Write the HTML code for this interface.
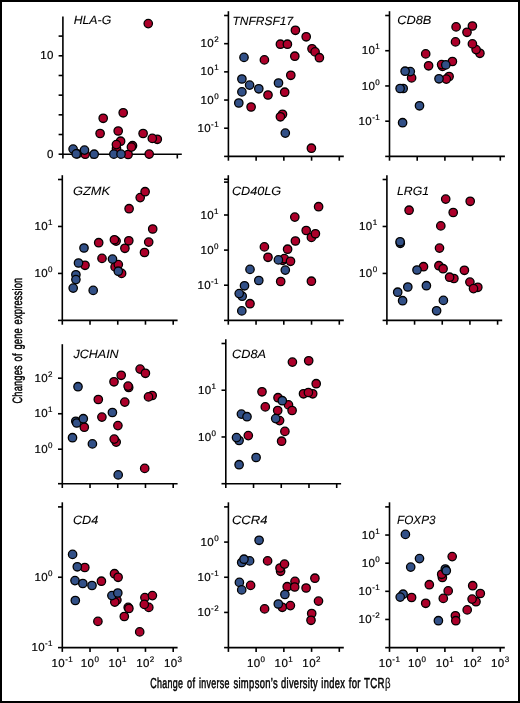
<!DOCTYPE html>
<html><head><meta charset="utf-8">
<style>
html,body{margin:0;padding:0;background:#fff;}
body{width:520px;height:703px;overflow:hidden;}
svg{display:block;will-change:transform;}
text{text-rendering:geometricPrecision;}
.ax line{stroke:#000;stroke-width:1.6;}
.t{font-family:"Liberation Sans",sans-serif;font-size:11.5px;fill:#000;letter-spacing:0.4px;stroke:#000;stroke-width:0.2px;}
.s{font-size:8.0px;}
.g{font-family:"Liberation Sans",sans-serif;font-size:12px;font-style:italic;fill:#000;stroke:#000;stroke-width:0.1px;}
.r{fill:#ac002a;stroke:#000;stroke-width:1.3;}
.b{fill:#325087;stroke:#000;stroke-width:1.3;}
.lab{font-family:"Liberation Sans",sans-serif;font-size:14.5px;fill:#000;stroke:#000;stroke-width:0.5px;}
</style></head>
<body>
<svg width="520" height="703" viewBox="0 0 520 703">
<rect x="1" y="1" width="518" height="701" fill="#fff" stroke="#000" stroke-width="2"/>
<g class="ax"><line x1="62.9" y1="16.4" x2="62.9" y2="154.2"/><line x1="62.9" y1="154.2" x2="181.8" y2="154.2"/><line x1="62.9" y1="154.2" x2="62.9" y2="158.5"/><line x1="91.5" y1="154.2" x2="91.5" y2="158.5"/><line x1="120.1" y1="154.2" x2="120.1" y2="158.5"/><line x1="148.7" y1="154.2" x2="148.7" y2="158.5"/><line x1="177.3" y1="154.2" x2="177.3" y2="158.5"/><line x1="58.6" y1="154.2" x2="62.9" y2="154.2"/><line x1="58.6" y1="134.52" x2="62.9" y2="134.52"/><line x1="58.6" y1="114.84" x2="62.9" y2="114.84"/><line x1="58.6" y1="95.16" x2="62.9" y2="95.16"/><line x1="58.6" y1="75.48" x2="62.9" y2="75.48"/><line x1="58.6" y1="55.8" x2="62.9" y2="55.8"/><line x1="58.6" y1="36.1" x2="62.9" y2="36.1"/></g>
<text x="53.8" y="157.8" text-anchor="end" class="t">0</text>
<text x="53.8" y="59.4" text-anchor="end" class="t">10</text>
<text x="73.7" y="23.9" class="g" textLength="37.5" lengthAdjust="spacingAndGlyphs">HLA-G</text>
<circle cx="103.2" cy="118.3" r="4.2" class="r"/><circle cx="100.1" cy="133.5" r="4.2" class="r"/><circle cx="118.2" cy="131" r="4.2" class="r"/><circle cx="123.2" cy="112.8" r="4.2" class="r"/><circle cx="120.6" cy="141.2" r="4.2" class="r"/><circle cx="116.5" cy="148.4" r="4.2" class="r"/><circle cx="116.4" cy="144.6" r="4.2" class="r"/><circle cx="85.2" cy="154.2" r="4.2" class="r"/><circle cx="128.1" cy="154.5" r="4.2" class="r"/><circle cx="132.5" cy="145.7" r="4.2" class="r"/><circle cx="131.4" cy="147.1" r="4.2" class="r"/><circle cx="143.1" cy="133.5" r="4.2" class="r"/><circle cx="157.3" cy="139.3" r="4.2" class="r"/><circle cx="152.3" cy="138.4" r="4.2" class="r"/><circle cx="149.2" cy="154.1" r="4.2" class="r"/><circle cx="148.25" cy="23.6" r="4.2" class="r"/><circle cx="73.1" cy="149.1" r="4.2" class="b"/><circle cx="77.3" cy="153.9" r="4.2" class="b"/><circle cx="76.2" cy="153.9" r="4.2" class="b"/><circle cx="84.5" cy="150.1" r="4.2" class="b"/><circle cx="94.2" cy="154.2" r="4.2" class="b"/><circle cx="113.85" cy="154.15" r="4.2" class="b"/><circle cx="121" cy="154.15" r="4.2" class="b"/>
<g class="ax"><line x1="228.4" y1="11.2" x2="228.4" y2="156.4"/><line x1="228.4" y1="156.4" x2="343.8" y2="156.4"/><line x1="228.4" y1="156.4" x2="228.4" y2="160.7"/><line x1="256.12" y1="156.4" x2="256.12" y2="160.7"/><line x1="283.85" y1="156.4" x2="283.85" y2="160.7"/><line x1="311.58" y1="156.4" x2="311.58" y2="160.7"/><line x1="339.3" y1="156.4" x2="339.3" y2="160.7"/><line x1="224.1" y1="156.4" x2="228.4" y2="156.4"/><line x1="224.1" y1="128.22" x2="228.4" y2="128.22"/><line x1="224.1" y1="100.04" x2="228.4" y2="100.04"/><line x1="224.1" y1="71.86" x2="228.4" y2="71.86"/><line x1="224.1" y1="43.68" x2="228.4" y2="43.68"/><line x1="224.1" y1="15.5" x2="228.4" y2="15.5"/></g>
<text x="219" y="131.82" text-anchor="end" class="t">10<tspan class="s" dy="-5">-1</tspan></text>
<text x="219" y="103.64" text-anchor="end" class="t">10<tspan class="s" dy="-5">0</tspan></text>
<text x="219" y="75.46" text-anchor="end" class="t">10<tspan class="s" dy="-5">1</tspan></text>
<text x="219" y="47.28" text-anchor="end" class="t">10<tspan class="s" dy="-5">2</tspan></text>
<text x="232.5" y="24.5" class="g" textLength="60.6" lengthAdjust="spacingAndGlyphs">TNFRSF17</text>
<circle cx="295.4" cy="30.3" r="4.2" class="r"/><circle cx="306.2" cy="36.8" r="4.2" class="r"/><circle cx="280.4" cy="44.2" r="4.2" class="r"/><circle cx="287.4" cy="44.2" r="4.2" class="r"/><circle cx="312" cy="48.8" r="4.2" class="r"/><circle cx="315.1" cy="51.9" r="4.2" class="r"/><circle cx="319.4" cy="57.7" r="4.2" class="r"/><circle cx="294.8" cy="56.2" r="4.2" class="r"/><circle cx="264.4" cy="59.9" r="4.2" class="r"/><circle cx="290.8" cy="75.3" r="4.2" class="r"/><circle cx="284.7" cy="92.2" r="4.2" class="r"/><circle cx="268" cy="95" r="4.2" class="r"/><circle cx="251.1" cy="107" r="4.2" class="r"/><circle cx="282.5" cy="114.3" r="4.2" class="r"/><circle cx="280.4" cy="116.8" r="4.2" class="r"/><circle cx="311.4" cy="148.2" r="4.2" class="r"/><circle cx="244" cy="57.4" r="4.2" class="b"/><circle cx="241.9" cy="79" r="4.2" class="b"/><circle cx="249.6" cy="85.1" r="4.2" class="b"/><circle cx="241.9" cy="91.9" r="4.2" class="b"/><circle cx="258.8" cy="88.8" r="4.2" class="b"/><circle cx="238.8" cy="103" r="4.2" class="b"/><circle cx="278.5" cy="83" r="4.2" class="b"/><circle cx="285.3" cy="133.1" r="4.2" class="b"/>
<g class="ax"><line x1="389.5" y1="11.2" x2="389.5" y2="156.4"/><line x1="389.5" y1="156.4" x2="504.9" y2="156.4"/><line x1="389.5" y1="156.4" x2="389.5" y2="160.7"/><line x1="417.2" y1="156.4" x2="417.2" y2="160.7"/><line x1="444.9" y1="156.4" x2="444.9" y2="160.7"/><line x1="472.6" y1="156.4" x2="472.6" y2="160.7"/><line x1="500.3" y1="156.4" x2="500.3" y2="160.7"/><line x1="385.2" y1="156.4" x2="389.5" y2="156.4"/><line x1="385.2" y1="121.18" x2="389.5" y2="121.18"/><line x1="385.2" y1="85.95" x2="389.5" y2="85.95"/><line x1="385.2" y1="50.72" x2="389.5" y2="50.72"/><line x1="385.2" y1="15.5" x2="389.5" y2="15.5"/></g>
<text x="380.1" y="124.78" text-anchor="end" class="t">10<tspan class="s" dy="-5">-1</tspan></text>
<text x="380.1" y="89.55" text-anchor="end" class="t">10<tspan class="s" dy="-5">0</tspan></text>
<text x="380.1" y="54.32" text-anchor="end" class="t">10<tspan class="s" dy="-5">1</tspan></text>
<text x="397.2" y="23.5" class="g" textLength="34.2" lengthAdjust="spacingAndGlyphs">CD8B</text>
<circle cx="425.7" cy="53.9" r="4.2" class="r"/><circle cx="428.6" cy="65.8" r="4.2" class="r"/><circle cx="442.5" cy="66.4" r="4.2" class="r"/><circle cx="441.6" cy="64.6" r="4.2" class="r"/><circle cx="449.1" cy="76.5" r="4.2" class="r"/><circle cx="446.3" cy="79.1" r="4.2" class="r"/><circle cx="452.4" cy="61.5" r="4.2" class="r"/><circle cx="455.5" cy="41.9" r="4.2" class="r"/><circle cx="456.1" cy="26.9" r="4.2" class="r"/><circle cx="472.4" cy="26" r="4.2" class="r"/><circle cx="467" cy="32.3" r="4.2" class="r"/><circle cx="479.9" cy="53.3" r="4.2" class="r"/><circle cx="476.1" cy="49.6" r="4.2" class="r"/><circle cx="472.4" cy="43.9" r="4.2" class="r"/><circle cx="411.6" cy="77.9" r="4.2" class="r"/><circle cx="410.3" cy="71.6" r="4.2" class="b"/><circle cx="405.1" cy="71.2" r="4.2" class="b"/><circle cx="403.2" cy="88.5" r="4.2" class="b"/><circle cx="400.1" cy="88.5" r="4.2" class="b"/><circle cx="419.5" cy="105.8" r="4.2" class="b"/><circle cx="402.6" cy="122.7" r="4.2" class="b"/><circle cx="439" cy="78.8" r="4.2" class="b"/><circle cx="445.8" cy="64.9" r="4.2" class="b"/>
<g class="ax"><line x1="62.3" y1="175.2" x2="62.3" y2="320.4"/><line x1="62.3" y1="320.4" x2="177.6" y2="320.4"/><line x1="62.3" y1="320.4" x2="62.3" y2="324.7"/><line x1="90.02" y1="320.4" x2="90.02" y2="324.7"/><line x1="117.75" y1="320.4" x2="117.75" y2="324.7"/><line x1="145.47" y1="320.4" x2="145.47" y2="324.7"/><line x1="173.2" y1="320.4" x2="173.2" y2="324.7"/><line x1="58" y1="320.4" x2="62.3" y2="320.4"/><line x1="58" y1="273.43" x2="62.3" y2="273.43"/><line x1="58" y1="226.47" x2="62.3" y2="226.47"/><line x1="58" y1="179.5" x2="62.3" y2="179.5"/></g>
<text x="52.9" y="277.03" text-anchor="end" class="t">10<tspan class="s" dy="-5">0</tspan></text>
<text x="52.9" y="230.07" text-anchor="end" class="t">10<tspan class="s" dy="-5">1</tspan></text>
<text x="72.9" y="195.3" class="g" textLength="37.1" lengthAdjust="spacingAndGlyphs">GZMK</text>
<circle cx="85" cy="265.3" r="4.2" class="r"/><circle cx="98.7" cy="242.7" r="4.2" class="r"/><circle cx="102" cy="258.4" r="4.2" class="r"/><circle cx="116.1" cy="241.1" r="4.2" class="r"/><circle cx="114.4" cy="239.8" r="4.2" class="r"/><circle cx="115.1" cy="266.9" r="4.2" class="r"/><circle cx="118.3" cy="264.6" r="4.2" class="r"/><circle cx="121.6" cy="273.4" r="4.2" class="r"/><circle cx="124.9" cy="248.3" r="4.2" class="r"/><circle cx="128.8" cy="240.8" r="4.2" class="r"/><circle cx="129.1" cy="208.7" r="4.2" class="r"/><circle cx="140.2" cy="197.6" r="4.2" class="r"/><circle cx="145.1" cy="191.7" r="4.2" class="r"/><circle cx="152.7" cy="229" r="4.2" class="r"/><circle cx="148.7" cy="242.1" r="4.2" class="r"/><circle cx="144.5" cy="252.5" r="4.2" class="r"/><circle cx="84" cy="248" r="4.2" class="b"/><circle cx="78.5" cy="263" r="4.2" class="b"/><circle cx="75.9" cy="274.8" r="4.2" class="b"/><circle cx="75.9" cy="279.6" r="4.2" class="b"/><circle cx="73.2" cy="288.1" r="4.2" class="b"/><circle cx="93.2" cy="290.4" r="4.2" class="b"/><circle cx="112.5" cy="259.1" r="4.2" class="b"/><circle cx="118.3" cy="271.2" r="4.2" class="b"/>
<g class="ax"><line x1="228.3" y1="175.2" x2="228.3" y2="320.4"/><line x1="228.3" y1="320.4" x2="343.8" y2="320.4"/><line x1="228.3" y1="320.4" x2="228.3" y2="324.7"/><line x1="256.05" y1="320.4" x2="256.05" y2="324.7"/><line x1="283.8" y1="320.4" x2="283.8" y2="324.7"/><line x1="311.55" y1="320.4" x2="311.55" y2="324.7"/><line x1="339.3" y1="320.4" x2="339.3" y2="324.7"/><line x1="224" y1="320.4" x2="228.3" y2="320.4"/><line x1="224" y1="285.2" x2="228.3" y2="285.2"/><line x1="224" y1="250.1" x2="228.3" y2="250.1"/><line x1="224" y1="215" x2="228.3" y2="215"/><line x1="224" y1="179.3" x2="228.3" y2="179.3"/><line x1="224" y1="182.1" x2="228.3" y2="182.1"/></g>
<text x="218.9" y="288.8" text-anchor="end" class="t">10<tspan class="s" dy="-5">-1</tspan></text>
<text x="218.9" y="253.7" text-anchor="end" class="t">10<tspan class="s" dy="-5">0</tspan></text>
<text x="218.9" y="218.6" text-anchor="end" class="t">10<tspan class="s" dy="-5">1</tspan></text>
<text x="231.9" y="195.3" class="g" textLength="49.3" lengthAdjust="spacingAndGlyphs">CD40LG</text>
<circle cx="264.4" cy="246.9" r="4.2" class="r"/><circle cx="268" cy="257.3" r="4.2" class="r"/><circle cx="250" cy="303.7" r="4.2" class="r"/><circle cx="280.7" cy="281.5" r="4.2" class="r"/><circle cx="282.7" cy="260.3" r="4.2" class="r"/><circle cx="284.3" cy="258.6" r="4.2" class="r"/><circle cx="287.6" cy="249.2" r="4.2" class="r"/><circle cx="290.5" cy="261.3" r="4.2" class="r"/><circle cx="295.4" cy="241" r="4.2" class="r"/><circle cx="294.8" cy="217.1" r="4.2" class="r"/><circle cx="306.2" cy="230.5" r="4.2" class="r"/><circle cx="311.4" cy="237.4" r="4.2" class="r"/><circle cx="315.4" cy="233.8" r="4.2" class="r"/><circle cx="318.6" cy="206.7" r="4.2" class="r"/><circle cx="311.4" cy="281.2" r="4.2" class="r"/><circle cx="250" cy="269.4" r="4.2" class="b"/><circle cx="258.8" cy="280.5" r="4.2" class="b"/><circle cx="244.5" cy="285.8" r="4.2" class="b"/><circle cx="242.2" cy="296.2" r="4.2" class="b"/><circle cx="239.2" cy="293.6" r="4.2" class="b"/><circle cx="241.8" cy="310.9" r="4.2" class="b"/><circle cx="278.4" cy="259.9" r="4.2" class="b"/><circle cx="285.3" cy="270.1" r="4.2" class="b"/>
<g class="ax"><line x1="386.9" y1="175.2" x2="386.9" y2="320.4"/><line x1="386.9" y1="320.4" x2="502.2" y2="320.4"/><line x1="386.9" y1="320.4" x2="386.9" y2="324.7"/><line x1="414.57" y1="320.4" x2="414.57" y2="324.7"/><line x1="442.25" y1="320.4" x2="442.25" y2="324.7"/><line x1="469.93" y1="320.4" x2="469.93" y2="324.7"/><line x1="497.6" y1="320.4" x2="497.6" y2="324.7"/><line x1="382.6" y1="320.4" x2="386.9" y2="320.4"/><line x1="382.6" y1="273.43" x2="386.9" y2="273.43"/><line x1="382.6" y1="226.47" x2="386.9" y2="226.47"/><line x1="382.6" y1="179.5" x2="386.9" y2="179.5"/></g>
<text x="377.5" y="277.03" text-anchor="end" class="t">10<tspan class="s" dy="-5">0</tspan></text>
<text x="377.5" y="230.07" text-anchor="end" class="t">10<tspan class="s" dy="-5">1</tspan></text>
<text x="397" y="195.3" class="g" textLength="32" lengthAdjust="spacingAndGlyphs">LRG1</text>
<circle cx="409.1" cy="210.2" r="4.2" class="r"/><circle cx="423.5" cy="266.7" r="4.2" class="r"/><circle cx="445.7" cy="199.1" r="4.2" class="r"/><circle cx="453.2" cy="212.5" r="4.2" class="r"/><circle cx="470.2" cy="201.3" r="4.2" class="r"/><circle cx="440.8" cy="225.9" r="4.2" class="r"/><circle cx="439.5" cy="248.1" r="4.2" class="r"/><circle cx="438.9" cy="265.7" r="4.2" class="r"/><circle cx="443.1" cy="268.7" r="4.2" class="r"/><circle cx="453.9" cy="278.5" r="4.2" class="r"/><circle cx="449.6" cy="277.2" r="4.2" class="r"/><circle cx="464.4" cy="270.3" r="4.2" class="r"/><circle cx="469.9" cy="282.1" r="4.2" class="r"/><circle cx="477.8" cy="287.3" r="4.2" class="r"/><circle cx="473.5" cy="288.6" r="4.2" class="r"/><circle cx="400.3" cy="243.3" r="4.2" class="b"/><circle cx="400.1" cy="241.8" r="4.2" class="b"/><circle cx="417" cy="270" r="4.2" class="b"/><circle cx="407.8" cy="287" r="4.2" class="b"/><circle cx="397.7" cy="292.2" r="4.2" class="b"/><circle cx="402.6" cy="300.7" r="4.2" class="b"/><circle cx="426.4" cy="285.7" r="4.2" class="b"/><circle cx="443.4" cy="300.4" r="4.2" class="b"/><circle cx="436.6" cy="310.8" r="4.2" class="b"/>
<g class="ax"><line x1="62.3" y1="344.2" x2="62.3" y2="483.7"/><line x1="62.3" y1="483.7" x2="177.6" y2="483.7"/><line x1="62.3" y1="483.7" x2="62.3" y2="488"/><line x1="90.02" y1="483.7" x2="90.02" y2="488"/><line x1="117.75" y1="483.7" x2="117.75" y2="488"/><line x1="145.47" y1="483.7" x2="145.47" y2="488"/><line x1="173.2" y1="483.7" x2="173.2" y2="488"/><line x1="58" y1="483.7" x2="62.3" y2="483.7"/><line x1="58" y1="449.2" x2="62.3" y2="449.2"/><line x1="58" y1="413.75" x2="62.3" y2="413.75"/><line x1="58" y1="378.2" x2="62.3" y2="378.2"/></g>
<text x="52.9" y="452.8" text-anchor="end" class="t">10<tspan class="s" dy="-5">0</tspan></text>
<text x="52.9" y="417.35" text-anchor="end" class="t">10<tspan class="s" dy="-5">1</tspan></text>
<text x="52.9" y="381.8" text-anchor="end" class="t">10<tspan class="s" dy="-5">2</tspan></text>
<text x="73.4" y="358.3" class="g" textLength="45.3" lengthAdjust="spacingAndGlyphs">JCHAIN</text>
<circle cx="84.3" cy="427.2" r="4.2" class="r"/><circle cx="98.3" cy="399.5" r="4.2" class="r"/><circle cx="101.9" cy="417.1" r="4.2" class="r"/><circle cx="114" cy="381.8" r="4.2" class="r"/><circle cx="121.2" cy="375.3" r="4.2" class="r"/><circle cx="128.7" cy="387.5" r="4.2" class="r"/><circle cx="128.1" cy="386.1" r="4.2" class="r"/><circle cx="124.8" cy="402.1" r="4.2" class="r"/><circle cx="117.9" cy="425.6" r="4.2" class="r"/><circle cx="116.2" cy="442.1" r="4.2" class="r"/><circle cx="114.2" cy="439.1" r="4.2" class="r"/><circle cx="140.1" cy="369.1" r="4.2" class="r"/><circle cx="145.4" cy="373.3" r="4.2" class="r"/><circle cx="152.2" cy="395.5" r="4.2" class="r"/><circle cx="148.5" cy="396.9" r="4.2" class="r"/><circle cx="144.7" cy="468.4" r="4.2" class="r"/><circle cx="78" cy="386.7" r="4.2" class="b"/><circle cx="75.8" cy="421.3" r="4.2" class="b"/><circle cx="76.7" cy="423" r="4.2" class="b"/><circle cx="83.3" cy="418.7" r="4.2" class="b"/><circle cx="72.5" cy="437.7" r="4.2" class="b"/><circle cx="92.4" cy="443.9" r="4.2" class="b"/><circle cx="112.4" cy="412.5" r="4.2" class="b"/><circle cx="118.2" cy="474.9" r="4.2" class="b"/>
<g class="ax"><line x1="225.8" y1="339.3" x2="225.8" y2="483.7"/><line x1="225.8" y1="483.7" x2="341.1" y2="483.7"/><line x1="225.8" y1="483.7" x2="225.8" y2="488"/><line x1="253.53" y1="483.7" x2="253.53" y2="488"/><line x1="281.25" y1="483.7" x2="281.25" y2="488"/><line x1="308.98" y1="483.7" x2="308.98" y2="488"/><line x1="336.7" y1="483.7" x2="336.7" y2="488"/><line x1="221.5" y1="483.7" x2="225.8" y2="483.7"/><line x1="221.5" y1="436.97" x2="225.8" y2="436.97"/><line x1="221.5" y1="390.23" x2="225.8" y2="390.23"/><line x1="221.5" y1="343.5" x2="225.8" y2="343.5"/></g>
<text x="216.4" y="440.57" text-anchor="end" class="t">10<tspan class="s" dy="-5">0</tspan></text>
<text x="216.4" y="393.83" text-anchor="end" class="t">10<tspan class="s" dy="-5">1</tspan></text>
<text x="232.1" y="357.8" class="g" textLength="34" lengthAdjust="spacingAndGlyphs">CD8A</text>
<circle cx="248.3" cy="435.6" r="4.2" class="r"/><circle cx="262" cy="391.8" r="4.2" class="r"/><circle cx="265.3" cy="406.9" r="4.2" class="r"/><circle cx="278" cy="397.7" r="4.2" class="r"/><circle cx="277.7" cy="410.5" r="4.2" class="r"/><circle cx="279.6" cy="420.6" r="4.2" class="r"/><circle cx="284.9" cy="431.4" r="4.2" class="r"/><circle cx="281.6" cy="441.2" r="4.2" class="r"/><circle cx="288.5" cy="404.9" r="4.2" class="r"/><circle cx="292.1" cy="410.5" r="4.2" class="r"/><circle cx="292.4" cy="362.1" r="4.2" class="r"/><circle cx="308.7" cy="360.8" r="4.2" class="r"/><circle cx="303.5" cy="393.8" r="4.2" class="r"/><circle cx="312.7" cy="393.8" r="4.2" class="r"/><circle cx="308.4" cy="392.5" r="4.2" class="r"/><circle cx="316.2" cy="383.7" r="4.2" class="r"/><circle cx="241.4" cy="414.1" r="4.2" class="b"/><circle cx="247" cy="416.7" r="4.2" class="b"/><circle cx="239.1" cy="440.5" r="4.2" class="b"/><circle cx="236.5" cy="437.6" r="4.2" class="b"/><circle cx="256.1" cy="457.5" r="4.2" class="b"/><circle cx="239.1" cy="464.7" r="4.2" class="b"/><circle cx="275.7" cy="418.6" r="4.2" class="b"/><circle cx="282.3" cy="400.7" r="4.2" class="b"/>
<g class="ax"><line x1="62.3" y1="502.3" x2="62.3" y2="647.6"/><line x1="62.3" y1="647.6" x2="177.6" y2="647.6"/><line x1="62.3" y1="647.6" x2="62.3" y2="651.9"/><line x1="90.02" y1="647.6" x2="90.02" y2="651.9"/><line x1="117.75" y1="647.6" x2="117.75" y2="651.9"/><line x1="145.47" y1="647.6" x2="145.47" y2="651.9"/><line x1="173.2" y1="647.6" x2="173.2" y2="651.9"/><line x1="58" y1="647.6" x2="62.3" y2="647.6"/><line x1="58" y1="577.25" x2="62.3" y2="577.25"/><line x1="58" y1="506.9" x2="62.3" y2="506.9"/></g>
<text x="52.9" y="651.2" text-anchor="end" class="t">10<tspan class="s" dy="-5">-1</tspan></text>
<text x="52.9" y="580.85" text-anchor="end" class="t">10<tspan class="s" dy="-5">0</tspan></text>
<text x="62.3" y="667.1" text-anchor="middle" class="t">10<tspan class="s" dy="-5">-1</tspan></text>
<text x="90.02" y="667.1" text-anchor="middle" class="t">10<tspan class="s" dy="-5">0</tspan></text>
<text x="117.75" y="667.1" text-anchor="middle" class="t">10<tspan class="s" dy="-5">1</tspan></text>
<text x="145.47" y="667.1" text-anchor="middle" class="t">10<tspan class="s" dy="-5">2</tspan></text>
<text x="173.2" y="667.1" text-anchor="middle" class="t">10<tspan class="s" dy="-5">3</tspan></text>
<text x="72.9" y="523.9" class="g" textLength="25.4" lengthAdjust="spacingAndGlyphs">CD4</text>
<circle cx="84.8" cy="567.5" r="4.2" class="r"/><circle cx="101.4" cy="581.2" r="4.2" class="r"/><circle cx="114.5" cy="573.7" r="4.2" class="r"/><circle cx="118.1" cy="577.3" r="4.2" class="r"/><circle cx="116.9" cy="600.1" r="4.2" class="r"/><circle cx="114.8" cy="602.1" r="4.2" class="r"/><circle cx="128.2" cy="607.4" r="4.2" class="r"/><circle cx="128.9" cy="608.5" r="4.2" class="r"/><circle cx="124.3" cy="616.5" r="4.2" class="r"/><circle cx="97.9" cy="621.4" r="4.2" class="r"/><circle cx="139.7" cy="631.9" r="4.2" class="r"/><circle cx="144.9" cy="597.6" r="4.2" class="r"/><circle cx="148.8" cy="607.4" r="4.2" class="r"/><circle cx="144.3" cy="604.4" r="4.2" class="r"/><circle cx="152.4" cy="595.6" r="4.2" class="r"/><circle cx="72.6" cy="554.4" r="4.2" class="b"/><circle cx="77.3" cy="566.8" r="4.2" class="b"/><circle cx="75" cy="580.6" r="4.2" class="b"/><circle cx="82.8" cy="583.5" r="4.2" class="b"/><circle cx="92" cy="585.5" r="4.2" class="b"/><circle cx="75.3" cy="600.5" r="4.2" class="b"/><circle cx="111.9" cy="595.6" r="4.2" class="b"/><circle cx="117.8" cy="593" r="4.2" class="b"/>
<g class="ax"><line x1="228.4" y1="502.3" x2="228.4" y2="647.6"/><line x1="228.4" y1="647.6" x2="343.8" y2="647.6"/><line x1="228.4" y1="647.6" x2="228.4" y2="651.9"/><line x1="256.12" y1="647.6" x2="256.12" y2="651.9"/><line x1="283.85" y1="647.6" x2="283.85" y2="651.9"/><line x1="311.58" y1="647.6" x2="311.58" y2="651.9"/><line x1="339.3" y1="647.6" x2="339.3" y2="651.9"/><line x1="224.1" y1="647.6" x2="228.4" y2="647.6"/><line x1="224.1" y1="612.42" x2="228.4" y2="612.42"/><line x1="224.1" y1="577.25" x2="228.4" y2="577.25"/><line x1="224.1" y1="542.08" x2="228.4" y2="542.08"/><line x1="224.1" y1="506.9" x2="228.4" y2="506.9"/></g>
<text x="219" y="616.02" text-anchor="end" class="t">10<tspan class="s" dy="-5">-2</tspan></text>
<text x="219" y="580.85" text-anchor="end" class="t">10<tspan class="s" dy="-5">-1</tspan></text>
<text x="219" y="545.68" text-anchor="end" class="t">10<tspan class="s" dy="-5">0</tspan></text>
<text x="256.12" y="667.1" text-anchor="middle" class="t">10<tspan class="s" dy="-5">0</tspan></text>
<text x="283.85" y="667.1" text-anchor="middle" class="t">10<tspan class="s" dy="-5">1</tspan></text>
<text x="311.58" y="667.1" text-anchor="middle" class="t">10<tspan class="s" dy="-5">2</tspan></text>
<text x="231.9" y="523.9" class="g" textLength="35.6" lengthAdjust="spacingAndGlyphs">CCR4</text>
<circle cx="267.6" cy="560.9" r="4.2" class="r"/><circle cx="280.6" cy="571.3" r="4.2" class="r"/><circle cx="280" cy="568" r="4.2" class="r"/><circle cx="284.5" cy="564.1" r="4.2" class="r"/><circle cx="250.6" cy="585.4" r="4.2" class="r"/><circle cx="295" cy="581.4" r="4.2" class="r"/><circle cx="287.2" cy="586.7" r="4.2" class="r"/><circle cx="294.7" cy="587" r="4.2" class="r"/><circle cx="306.1" cy="588" r="4.2" class="r"/><circle cx="314.9" cy="578.2" r="4.2" class="r"/><circle cx="264.6" cy="608.9" r="4.2" class="r"/><circle cx="282.3" cy="607.3" r="4.2" class="r"/><circle cx="290.4" cy="605.6" r="4.2" class="r"/><circle cx="318.5" cy="601.1" r="4.2" class="r"/><circle cx="311.7" cy="613.5" r="4.2" class="r"/><circle cx="311" cy="620.3" r="4.2" class="r"/><circle cx="259.1" cy="540.3" r="4.2" class="b"/><circle cx="241.7" cy="562.5" r="4.2" class="b"/><circle cx="249.6" cy="560.9" r="4.2" class="b"/><circle cx="244" cy="559.2" r="4.2" class="b"/><circle cx="239.4" cy="582.4" r="4.2" class="b"/><circle cx="241.7" cy="589.9" r="4.2" class="b"/><circle cx="284.9" cy="594.5" r="4.2" class="b"/><circle cx="278.3" cy="604" r="4.2" class="b"/>
<g class="ax"><line x1="389.5" y1="502.3" x2="389.5" y2="647.6"/><line x1="389.5" y1="647.6" x2="504.8" y2="647.6"/><line x1="389.5" y1="647.6" x2="389.5" y2="651.9"/><line x1="417.2" y1="647.6" x2="417.2" y2="651.9"/><line x1="444.9" y1="647.6" x2="444.9" y2="651.9"/><line x1="472.6" y1="647.6" x2="472.6" y2="651.9"/><line x1="500.3" y1="647.6" x2="500.3" y2="651.9"/><line x1="385.2" y1="647.6" x2="389.5" y2="647.6"/><line x1="385.2" y1="619.46" x2="389.5" y2="619.46"/><line x1="385.2" y1="591.32" x2="389.5" y2="591.32"/><line x1="385.2" y1="563.18" x2="389.5" y2="563.18"/><line x1="385.2" y1="535.04" x2="389.5" y2="535.04"/><line x1="385.2" y1="506.9" x2="389.5" y2="506.9"/></g>
<text x="380.1" y="623.06" text-anchor="end" class="t">10<tspan class="s" dy="-5">-2</tspan></text>
<text x="380.1" y="594.92" text-anchor="end" class="t">10<tspan class="s" dy="-5">-1</tspan></text>
<text x="380.1" y="566.78" text-anchor="end" class="t">10<tspan class="s" dy="-5">0</tspan></text>
<text x="380.1" y="538.64" text-anchor="end" class="t">10<tspan class="s" dy="-5">1</tspan></text>
<text x="389.5" y="667.1" text-anchor="middle" class="t">10<tspan class="s" dy="-5">-1</tspan></text>
<text x="417.2" y="667.1" text-anchor="middle" class="t">10<tspan class="s" dy="-5">0</tspan></text>
<text x="444.9" y="667.1" text-anchor="middle" class="t">10<tspan class="s" dy="-5">1</tspan></text>
<text x="472.6" y="667.1" text-anchor="middle" class="t">10<tspan class="s" dy="-5">2</tspan></text>
<text x="500.3" y="667.1" text-anchor="middle" class="t">10<tspan class="s" dy="-5">3</tspan></text>
<text x="397" y="523.9" class="g" textLength="38.5" lengthAdjust="spacingAndGlyphs">FOXP3</text>
<circle cx="452.2" cy="556.6" r="4.2" class="r"/><circle cx="442.4" cy="577.5" r="4.2" class="r"/><circle cx="441.7" cy="574.3" r="4.2" class="r"/><circle cx="429.3" cy="584.7" r="4.2" class="r"/><circle cx="448.2" cy="590.9" r="4.2" class="r"/><circle cx="472.7" cy="585.7" r="4.2" class="r"/><circle cx="480.3" cy="593.5" r="4.2" class="r"/><circle cx="476" cy="601.7" r="4.2" class="r"/><circle cx="472.1" cy="599.1" r="4.2" class="r"/><circle cx="411.6" cy="597.5" r="4.2" class="r"/><circle cx="443.3" cy="598.4" r="4.2" class="r"/><circle cx="425.7" cy="603.3" r="4.2" class="r"/><circle cx="467.2" cy="609.9" r="4.2" class="r"/><circle cx="455.4" cy="615.8" r="4.2" class="r"/><circle cx="455.8" cy="620.7" r="4.2" class="r"/><circle cx="405.4" cy="534.4" r="4.2" class="b"/><circle cx="419.5" cy="558.6" r="4.2" class="b"/><circle cx="410.7" cy="567.1" r="4.2" class="b"/><circle cx="445.3" cy="569" r="4.2" class="b"/><circle cx="446.3" cy="570.7" r="4.2" class="b"/><circle cx="403.1" cy="594.2" r="4.2" class="b"/><circle cx="400.2" cy="597.1" r="4.2" class="b"/><circle cx="438.4" cy="620.7" r="4.2" class="b"/>
<text class="lab" transform="translate(150.4,687.9) scale(0.61,1)" x="0" y="0" style="letter-spacing:0.5px;word-spacing:3px"><tspan x="-0.10" textLength="54.13" lengthAdjust="spacingAndGlyphs">Change</tspan> <tspan x="60.05" textLength="13.63" lengthAdjust="spacingAndGlyphs">of</tspan> <tspan x="79.60" textLength="50.50" lengthAdjust="spacingAndGlyphs">inverse</tspan> <tspan x="136.07" textLength="73.38" lengthAdjust="spacingAndGlyphs">simpson&#8217;s</tspan> <tspan x="214.12" textLength="60.74" lengthAdjust="spacingAndGlyphs">diversity</tspan> <tspan x="280.20" textLength="39.01" lengthAdjust="spacingAndGlyphs">index</tspan> <tspan x="324.98" textLength="20.06" lengthAdjust="spacingAndGlyphs">for</tspan> <tspan x="350.26" textLength="43.88" lengthAdjust="spacingAndGlyphs">TCR<tspan style="stroke-width:0.15px">&#946;</tspan></tspan></text>
<text class="lab" transform="translate(22.4,403.6) rotate(-90) scale(0.64,0.93)" x="0" y="0" style="letter-spacing:0.3px;word-spacing:1.5px">Changes of gene expression</text>
</svg>
</body></html>
